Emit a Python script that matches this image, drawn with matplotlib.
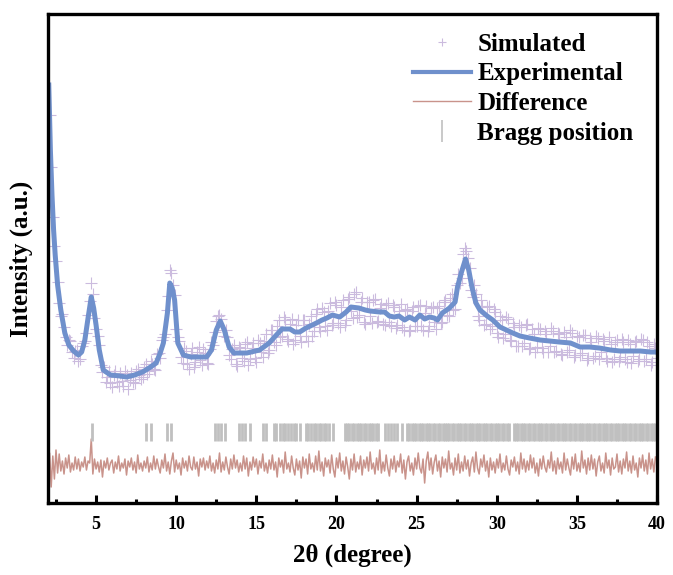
import matplotlib
matplotlib.use("Agg")
import matplotlib.pyplot as plt
from matplotlib.lines import Line2D
import numpy as np

plt.rcParams.update({"font.family": "Liberation Serif", "font.weight": "bold",
                     "axes.labelweight": "bold", "mathtext.default": "regular"})

# --- experimental profile (arbitrary units) ---
theta_exp = [2.05, 2.15, 2.25, 2.35, 2.45, 2.6, 2.8, 3.05, 3.3, 3.6, 3.9, 4.1, 4.3, 4.5,
             4.7, 4.85, 5.0, 5.2, 5.45, 5.9, 6.5, 6.9, 7.4, 7.9, 8.4, 8.75, 9.0, 9.2,
             9.45, 9.6, 9.75, 9.9, 10.1, 10.45, 10.9, 11.4, 11.9, 12.2, 12.5, 12.75,
             13.0, 13.3, 13.6, 14.0, 14.4, 15.2, 15.8, 16.25, 16.6, 17.1, 17.4, 17.7,
             18.1, 18.75, 19.1, 19.4, 19.75, 20.2, 20.6, 20.9, 21.4, 21.8, 22.1, 22.7,
             23.0, 23.3, 23.6, 23.9, 24.25, 24.55, 24.9, 25.2, 25.5, 25.8, 26.1, 26.3,
             26.6, 27.05, 27.4, 27.55, 27.8, 28.05, 28.25, 28.45, 28.7, 28.95, 29.4,
             29.75, 30.2, 30.6, 31.0, 31.45, 32.05, 32.7, 33.3, 33.9, 34.6, 35.2, 35.8,
             36.4, 37.1, 37.7, 38.3, 38.95, 39.6, 40.0]
int_exp = [418, 353, 308, 273, 248, 218, 193, 170, 158, 152, 148, 151, 163, 185,
           206, 195, 178, 153, 133, 128, 127, 126, 128, 131, 136, 140, 150, 160,
           190, 220, 215, 203, 160, 148, 146, 146, 146, 153, 173, 182,
           173, 156, 150, 150, 150, 153, 160, 168, 174, 174, 171, 171,
           175, 180, 183, 185, 188, 186, 191, 196, 195, 193, 192, 191,
           191, 187, 186, 187, 183, 186, 183, 188, 184, 186, 185, 183,
           190, 195, 201, 216, 231, 244, 233, 216, 200, 193, 187,
           183, 176, 173, 170, 167, 165, 163, 162, 161, 160, 156, 156,
           155, 153, 152, 152, 152, 151, 151]

# --- simulated points: two interleaved passes, step 0.2 deg (one row = 2 deg) ---
sim_step = 0.2
sim_a_start = 2.1
sim_a = [388, 286, 242, 200, 189, 166, 163, 151, 152, 142,
         157, 162, 188, 220, 185, 167, 138, 136, 126, 120,
         128, 121, 130, 117, 128, 123, 121, 132, 128, 126,
         139, 132, 139, 133, 150, 163, 169, 207, 230, 208,
         166, 146, 155, 139, 149, 136, 151, 143, 154, 140,
         154, 158, 182, 188, 173, 173, 148, 154, 139, 156,
         145, 159, 138, 155, 145, 163, 151, 162, 150, 173,
         161, 177, 166, 186, 164, 179, 159, 178, 167, 183,
         167, 179, 167, 189, 176, 195, 177, 192, 178, 201,
         180, 196, 178, 204, 192, 209, 186, 201, 181, 201,
         187, 203, 181, 195, 179, 198, 181, 198, 175, 192,
         176, 193, 172, 192, 177, 197, 177, 190, 172, 195,
         181, 195, 180, 201, 188, 205, 193, 218, 220, 249,
         252, 235, 206, 209, 183, 197, 179, 197, 177, 191,
         166, 183, 169, 184, 162, 176, 157, 176, 160, 179,
         155, 169, 156, 174, 151, 169, 157, 172, 152, 169,
         148, 166, 153, 170, 148, 166, 150, 168, 145, 161,
         147, 165, 151, 162, 142, 159, 144, 163, 146, 161,
         141, 159, 147, 162, 144, 163, 144, 157, 141, 155]
sim_b_start = 2.2
sim_b = [336, 257, 221, 187, 176, 158, 162, 145, 153, 144,
         160, 170, 202, 209, 174, 158, 131, 121, 132, 116,
         132, 117, 122, 132, 114, 130, 120, 134, 124, 136,
         129, 142, 134, 149, 145, 166, 193, 233, 218, 174,
         162, 140, 152, 134, 155, 141, 156, 138, 150, 139,
         161, 171, 187, 184, 167, 166, 144, 158, 137, 155,
         142, 161, 144, 160, 141, 160, 146, 169, 153, 173,
         158, 183, 167, 183, 162, 184, 163, 183, 161, 183,
         162, 187, 172, 194, 172, 191, 173, 200, 180, 198,
         176, 203, 183, 206, 185, 211, 188, 205, 179, 201,
         180, 204, 182, 199, 178, 200, 177, 196, 178, 199,
         173, 194, 173, 196, 177, 198, 173, 197, 177, 196,
         174, 197, 181, 203, 187, 209, 194, 229, 225, 255,
         245, 213, 218, 187, 203, 178, 196, 174, 194, 170,
         187, 165, 186, 163, 180, 157, 178, 157, 178, 154,
         174, 151, 175, 155, 172, 151, 175, 151, 170, 149,
         171, 151, 173, 146, 167, 148, 168, 143, 165, 145,
         167, 144, 164, 145, 166, 141, 161, 142, 164, 144,
         163, 140, 161, 142, 164, 142, 161, 138, 159, 145]

# --- difference (obs - calc), start 2.0 deg, step 0.1 deg (one row = 2 deg) ---
diff_start, diff_step = 2.0, 0.1
diff = [-18, 12, -22, 9, -14, 15, -8, 11, -6, 4, -9, 7, -3, 10, -7, 2, -5, 8, -4, 6,
        -6, 3, -2, 8, -5, 4, 2, 26, -9, 6, -4, 3, -7, 5, -12, 4, -3, 7, -5, 2,
        5, -8, 3, -4, 9, -6, 2, -3, 6, -10, 4, -2, 7, -5, 3, -8, 10, -4, 2, -6,
        4, -3, 8, -7, 2, -5, 9, -4, 6, -2, -8, 5, -3, 11, -6, 3, -9, 4, 12, -7,
        5, -4, 2, -10, 7, -3, 4, -6, 9, -2, -5, 8, -4, 3, -11, 6, -2, 7, -5, 4,
        -3, 9, -6, 2, -8, 5, -4, 12, -7, 3, -5, 8, -2, -9, 6, -4, 10, -3, 5, -7,
        2, -6, 9, -4, 7, -11, 3, -5, 8, -2, 6, -9, 4, -3, 11, -6, 2, -8, 5, -4,
        10, -5, 3, -12, 7, -2, 5, -8, 13, -4, 2, -7, 9, -3, -10, 6, -5, 4, -13, 8,
        -3, 6, -9, 11, -4, 2, -7, 9, -5, 14, -6, 3, -11, 7, -2, 5, -8, 10, -4, -12,
        7, -3, 12, -6, 4, -9, 8, -2, -14, 6, -5, 11, -7, 3, -4, 9, -10, 5, -3, 8,
        -6, 13, -4, 2, -9, 7, -5, 15, -8, 3, -6, 10, -3, -11, 6, -4, 9, -7, 4, -2,
        11, -8, 5, -14, 3, 9, -6, 2, -10, 7, -4, 12, -3, -8, 6, -18, 4, 13, -5, 7,
        -9, 3, 10, -6, 4, -12, 8, -3, 6, -7, 14, -4, 2, -10, 7, -5, 11, -8, 3, -6,
        9, -4, 5, -11, 2, 8, -7, 13, -3, -9, 6, -2, 10, -6, 4, -12, 7, -5, 3, -8,
        6, -3, 11, -7, 2, -5, 9, -4, -10, 5, -2, 8, -6, 3, -9, 12, -4, 6, -7, 4,
        -5, 10, -3, 7, -8, 2, -11, 6, -4, 9, -2, -7, 5, -3, 13, -6, 4, -9, 7, -4,
        3, -8, 12, -5, 6, -3, -10, 8, -4, 11, -6, 2, -7, 14, -3, 5, -9, 7, -5, 10,
        -4, 6, -11, 3, 9, -6, 2, -8, 12, -3, 5, -10, 7, -4, -2, 11, -7, 4, -9, 6,
        -3, 13, -6, 4, -8, 9, -5, 2, -12, 7, -3, 10, -6, 5, -9, 12, -4, 6, -7, 8]

# --- Bragg reflection positions (deg) ---
bragg = [4.75, 8.1, 8.4, 9.4, 9.7, 12.4, 12.6, 12.8, 13.05, 13.9, 14.1, 14.3, 14.6,
         15.4, 15.6, 16.1, 16.25, 16.5, 16.65, 16.8, 17.0, 17.15, 17.35, 17.5, 17.7,
         18.1, 18.25, 18.4, 18.6, 18.75, 18.9, 19.05, 19.2, 19.35, 19.55, 19.8,
         20.5, 20.65, 20.8, 20.95, 21.1, 21.25, 21.4, 21.55, 21.7, 21.85, 22.0,
         22.15, 22.3, 22.45, 22.6, 23.0, 23.2, 23.4, 23.6, 23.8, 24.1,
         24.4, 24.53, 24.69, 24.82, 24.97, 25.12, 25.26, 25.41, 25.57, 25.7, 25.86,
         26.0, 26.15, 26.31, 26.44, 26.62, 26.75, 26.9, 27.05, 27.18, 27.34, 27.5,
         27.63, 27.79, 27.93, 28.08, 28.24, 28.37, 28.52, 28.68, 28.81, 28.97,
         29.12, 29.26, 29.41, 29.57, 29.7, 29.86, 30.01, 30.15, 30.31, 30.45, 30.62,
         30.76, 31.05, 31.2, 31.34, 31.5, 31.65, 31.79, 31.95, 32.1, 32.24, 32.4,
         32.55, 32.69, 32.85, 33.0, 33.14, 33.3, 33.45, 33.59, 33.75, 33.9, 34.04,
         34.2, 34.35, 34.49, 34.65, 34.8, 34.94, 35.1, 35.25, 35.39, 35.55, 35.7,
         35.84, 36.0, 36.15, 36.29, 36.45, 36.6, 36.74, 36.9, 37.05, 37.19, 37.35,
         37.5, 37.64, 37.8, 37.95, 38.09, 38.25, 38.4, 38.54, 38.7, 38.85, 38.99,
         39.15, 39.3, 39.44, 39.6, 39.75, 39.9]

sim_theta = np.concatenate([sim_a_start + sim_step * np.arange(len(sim_a)),
                            sim_b_start + sim_step * np.arange(len(sim_b))])
sim_int = np.concatenate([sim_a, sim_b])
diff_theta = diff_start + diff_step * np.arange(len(diff))

c_sim, c_exp, c_diff, c_bragg = "#cbbbde", "#6f90cc", "#c9938b", "#c0c0c0"

fig = plt.figure(figsize=(6.73, 5.75), dpi=100)
ax = fig.add_axes([0.0713, 0.1252, 0.905, 0.8504])

ax.plot(sim_theta, sim_int, ls="none", marker="+", ms=8, mew=0.8, color=c_sim)
ax.plot(theta_exp, int_exp, color=c_exp, lw=3.6, solid_joinstyle="round")
ax.plot(diff_theta, np.array(diff) + 38, color=c_diff, lw=1.1)
ax.vlines(bragg, 62, 80, color=c_bragg, lw=2.0)

ax.set_xlim(2, 40)
ax.set_ylim(0, 489)
ax.set_yticks([])
ax.set_xticks(range(5, 41, 5))
ax.set_xticks(np.arange(2.5, 40, 5), minor=True)
ax.tick_params(axis="x", which="major", direction="in", length=6, width=2.2,
               labelsize=13, pad=9)
ax.tick_params(axis="x", which="minor", direction="in", length=3, width=2.2)
for s in ax.spines.values():
    s.set_linewidth(2.4)

ax.set_xlabel("2θ (degree)", fontsize=18)
ax.set_ylabel("Intensity (a.u.)", fontsize=18)
ax.xaxis.set_label_coords(0.5, -0.082)
ax.yaxis.set_label_coords(-0.025, 0.5)

handles = [Line2D([], [], ls="none", marker="+", ms=6, mew=0.8, color=c_sim),
           Line2D([], [], color=c_exp, lw=3),
           Line2D([], [], color=c_diff, lw=1),
           Line2D([], [], ls="none", marker="|", ms=16, mew=1.2, color=c_bragg)]
labels = ["Simulated", "Experimental", "Difference", "Bragg position"]
ax.legend(handles, labels, loc="upper left", bbox_to_anchor=(0.600, 0.962),
          frameon=False, borderpad=0, borderaxespad=0, handlelength=2.3,
          handletextpad=0.25, labelspacing=0.27,
          prop={"family": "Liberation Serif", "weight": "bold", "size": 18})

fig.savefig("out.png", dpi=100)
